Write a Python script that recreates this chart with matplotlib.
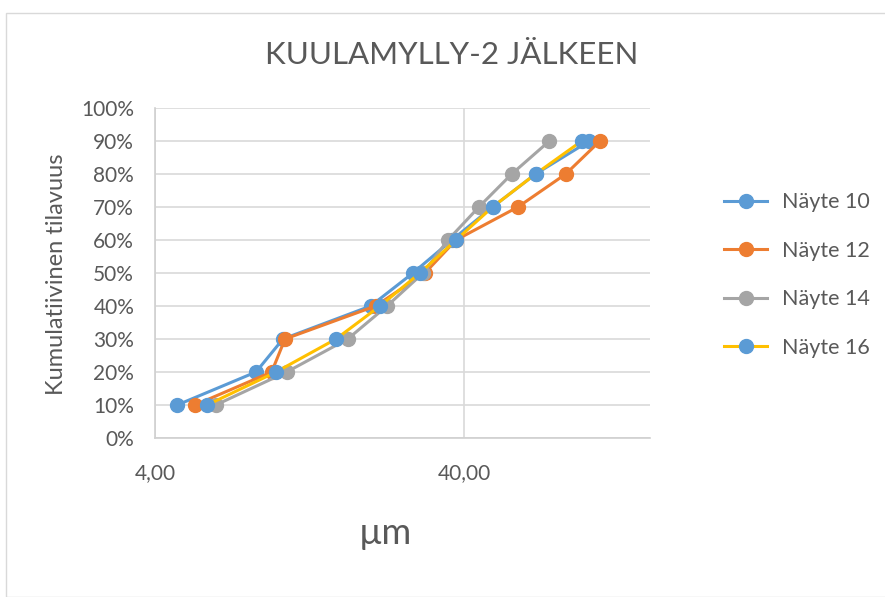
import numpy as np
import matplotlib.pyplot as plt
from matplotlib.ticker import FixedLocator, FixedFormatter, PercentFormatter, NullLocator
from matplotlib.patches import Rectangle

plt.rcParams['font.family'] = ['Lato', 'DejaVu Sans']

# kumulatiivinen tilavuus (%) vs. partikkelikoko (µm)
tilavuus = [10, 20, 30, 40, 50, 60, 70, 80, 90]
nayte10 = [4.72, 8.49, 10.38, 19.96, 27.35, 36.58, 49.5, 68.2, 101.8]
nayte12 = [5.39, 9.54, 10.54, 20.7, 29.9, 37.7, 59.8, 85.4, 110.2]
nayte14 = [6.29, 10.67, 16.82, 22.54, 29.5, 35.5, 44.7, 57.1, 75.6]
nayte16 = [5.90, 9.86, 15.41, 21.39, 28.82, 37.7, 49.5, 68.2, 96.2]

sarjat = [('Näyte 10', nayte10, '#5B9BD5', '#5B9BD5'),
          ('Näyte 12', nayte12, '#ED7D31', '#ED7D31'),
          ('Näyte 14', nayte14, '#A5A5A5', '#A5A5A5'),
          ('Näyte 16', nayte16, '#FFC000', '#5B9BD5')]

W, H = 885, 597
fig = plt.figure(figsize=(W/100, H/100), dpi=100)
fig.patches.append(Rectangle((6/W, 0), 1, 1 - 13/H, transform=fig.transFigure,
                             fill=False, edgecolor='#d9d9d9', linewidth=1))

ax = fig.add_axes([155/W, 1 - 438/H, (650-155)/W, (438-108)/H])
for nimi, x, lc, mc in sarjat:
    ax.plot(x, tilavuus, color=lc, linewidth=2.2, marker='o', markersize=10,
            markerfacecolor=mc, markeredgecolor=mc, label=nimi)

ax.set_xscale('log')
ax.set_xlim(4, 160)
ax.set_ylim(0, 100)
ax.xaxis.set_major_locator(FixedLocator([4, 40]))
ax.xaxis.set_major_formatter(FixedFormatter(['4,00', '40,00']))
ax.xaxis.set_minor_locator(NullLocator())
ax.yaxis.set_major_locator(FixedLocator(np.arange(0, 101, 10)))
ax.yaxis.set_major_formatter(PercentFormatter(decimals=0))

ax.grid(True, color='#d9d9d9', linewidth=1.2)
ax.set_axisbelow(True)
for s in ['top', 'right']:
    ax.spines[s].set_visible(False)
for s in ['left', 'bottom']:
    ax.spines[s].set_color('#d0d0d0')
    ax.spines[s].set_linewidth(1.2)
ax.tick_params(length=0, labelsize=15, labelcolor='#595959')
ax.tick_params(axis='y', pad=15)
ax.tick_params(axis='x', pad=18)

fig.text(452/W, 1 - 55/H, 'KUULAMYLLY-2 JÄLKEEN', ha='center', va='center',
         fontsize=22.5, color='#595959')
fig.text(385/W, 1 - 533/H, 'µm', ha='center', va='center', fontsize=26, color='#595959')
fig.text(57/W, 1 - 274/H, 'Kumulatiivinen tilavuus', ha='center', va='center',
         rotation=90, fontsize=17, color='#595959')

ax.legend(loc='center left', bbox_to_anchor=(705/W, 1 - 275/H),
          bbox_transform=fig.transFigure, frameon=False, fontsize=15.5,
          labelcolor='#595959', handlelength=2, labelspacing=1.33, handletextpad=0.7)

fig.savefig('out.png', dpi=100)
